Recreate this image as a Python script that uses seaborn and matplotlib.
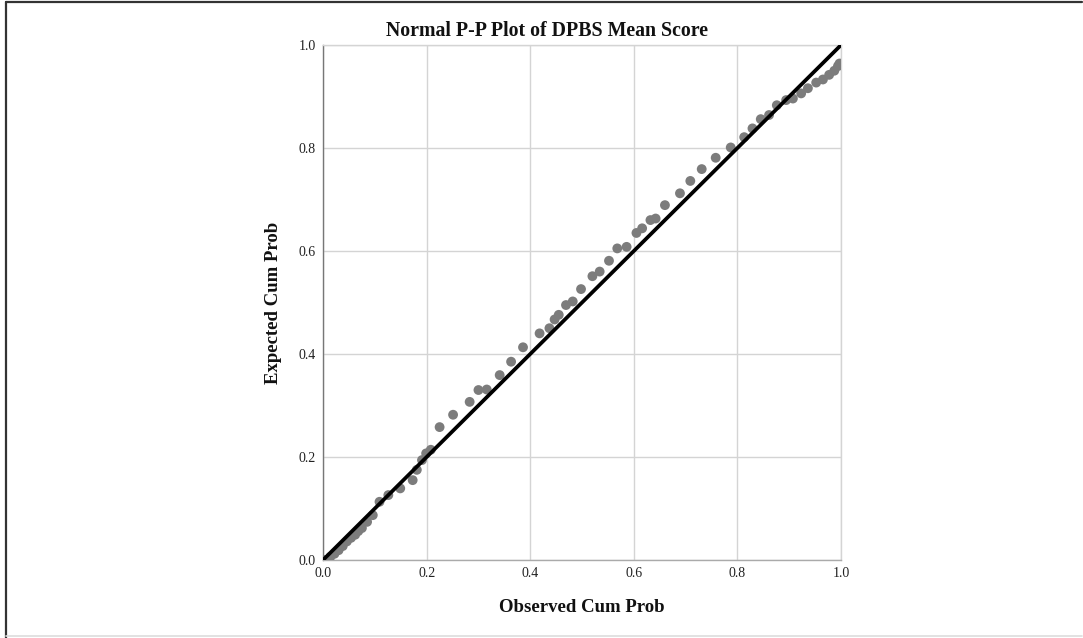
import matplotlib
matplotlib.use("Agg")
import matplotlib.pyplot as plt
from matplotlib.lines import Line2D
import seaborn as sns
import pandas as pd

# Observed vs expected cumulative probabilities for the DPBS mean score
observed_cum_prob = [
    0.003, 0.014, 0.022, 0.030, 0.038, 0.046, 0.054, 0.062, 0.068, 0.075,
    0.085, 0.096, 0.109, 0.126, 0.149, 0.173, 0.181, 0.191, 0.199, 0.208,
    0.225, 0.251, 0.283, 0.300, 0.316, 0.341, 0.363, 0.386, 0.418, 0.437,
    0.447, 0.455, 0.469, 0.482, 0.498, 0.520, 0.534, 0.552, 0.568, 0.586,
    0.605, 0.616, 0.632, 0.642, 0.660, 0.689, 0.709, 0.731, 0.758, 0.787,
    0.813, 0.829, 0.845, 0.861, 0.876, 0.894, 0.907, 0.923, 0.936, 0.952,
    0.965, 0.977, 0.987, 0.994, 0.997,
]
expected_cum_prob = [
    0.000, 0.006, 0.012, 0.019, 0.027, 0.036, 0.043, 0.049, 0.056, 0.062,
    0.074, 0.087, 0.113, 0.126, 0.139, 0.155, 0.175, 0.194, 0.207, 0.214,
    0.258, 0.282, 0.307, 0.330, 0.331, 0.359, 0.385, 0.413, 0.440, 0.450,
    0.467, 0.476, 0.495, 0.502, 0.526, 0.551, 0.560, 0.581, 0.605, 0.608,
    0.635, 0.644, 0.660, 0.663, 0.689, 0.712, 0.736, 0.759, 0.781, 0.801,
    0.821, 0.838, 0.856, 0.864, 0.883, 0.893, 0.896, 0.906, 0.916, 0.927,
    0.933, 0.942, 0.950, 0.959, 0.964,
]
reference_line = [0.0, 1.0]
tick_values = [0.0, 0.2, 0.4, 0.6, 0.8, 1.0]
tick_labels = ["0.0", "0.2", "0.4", "0.6", "0.8", "1.0"]

df = pd.DataFrame({"Observed Cum Prob": observed_cum_prob,
                   "Expected Cum Prob": expected_cum_prob})
line_df = pd.DataFrame({"x": reference_line, "y": reference_line})

sns.set_theme(style="whitegrid")
plt.rcParams["font.family"] = ["Liberation Serif", "DejaVu Serif"]

fig = plt.figure(figsize=(10.83, 6.38), dpi=100)
ax = fig.add_axes([0.2983, 0.1223, 0.4783, 0.8072])

sns.scatterplot(data=df, x="Observed Cum Prob", y="Expected Cum Prob",
                ax=ax, s=50, color="#7c7c7c", edgecolor="none", zorder=3)
sns.lineplot(data=line_df, x="x", y="y", ax=ax, color="black",
             linewidth=2.7, zorder=4)

ax.set_xlim(0, 1)
ax.set_ylim(0, 1)
ax.set_xticks(tick_values)
ax.set_yticks(tick_values)
ax.set_xticklabels(tick_labels)
ax.set_yticklabels(tick_labels)
ax.tick_params(axis="both", labelsize=10, colors="#222222", length=3,
               width=0.8, pad=2, direction="out")
ax.tick_params(axis="both", color="#888888")
ax.grid(True, color="#d4d4d4", linewidth=1.0)
ax.set_axisbelow(True)
for side in ["top", "right"]:
    ax.spines[side].set_color("#d4d4d4")
    ax.spines[side].set_linewidth(1.0)
ax.spines["left"].set_color("#777777")
ax.spines["bottom"].set_color("#aaaaaa")
for side in ["left", "bottom"]:
    ax.spines[side].set_linewidth(1.0)

ax.set_xlabel("Observed Cum Prob", fontsize=13.5, fontweight="bold",
              color="#111111", labelpad=14)
ax.set_ylabel("Expected Cum Prob", fontsize=13.5, fontweight="bold",
              color="#111111", labelpad=12)
fig.text(0.505, 0.951, "Normal P-P Plot of DPBS Mean Score", ha="center",
         va="center", fontsize=14.3, fontweight="bold", color="#111111")

# Outer frame around the whole chart
fig.add_artist(Line2D([0.0055, 0.999], [0.9965, 0.9965], color="#333333",
                      linewidth=1.6, transform=fig.transFigure))
fig.add_artist(Line2D([0.0055, 0.0055], [0.0, 0.9965], color="#333333",
                      linewidth=1.6, transform=fig.transFigure))
fig.add_artist(Line2D([0.0055, 0.999], [0.003, 0.003], color="#dddddd",
                      linewidth=1.2, transform=fig.transFigure))

fig.savefig("out.png", dpi=100, facecolor="white")
